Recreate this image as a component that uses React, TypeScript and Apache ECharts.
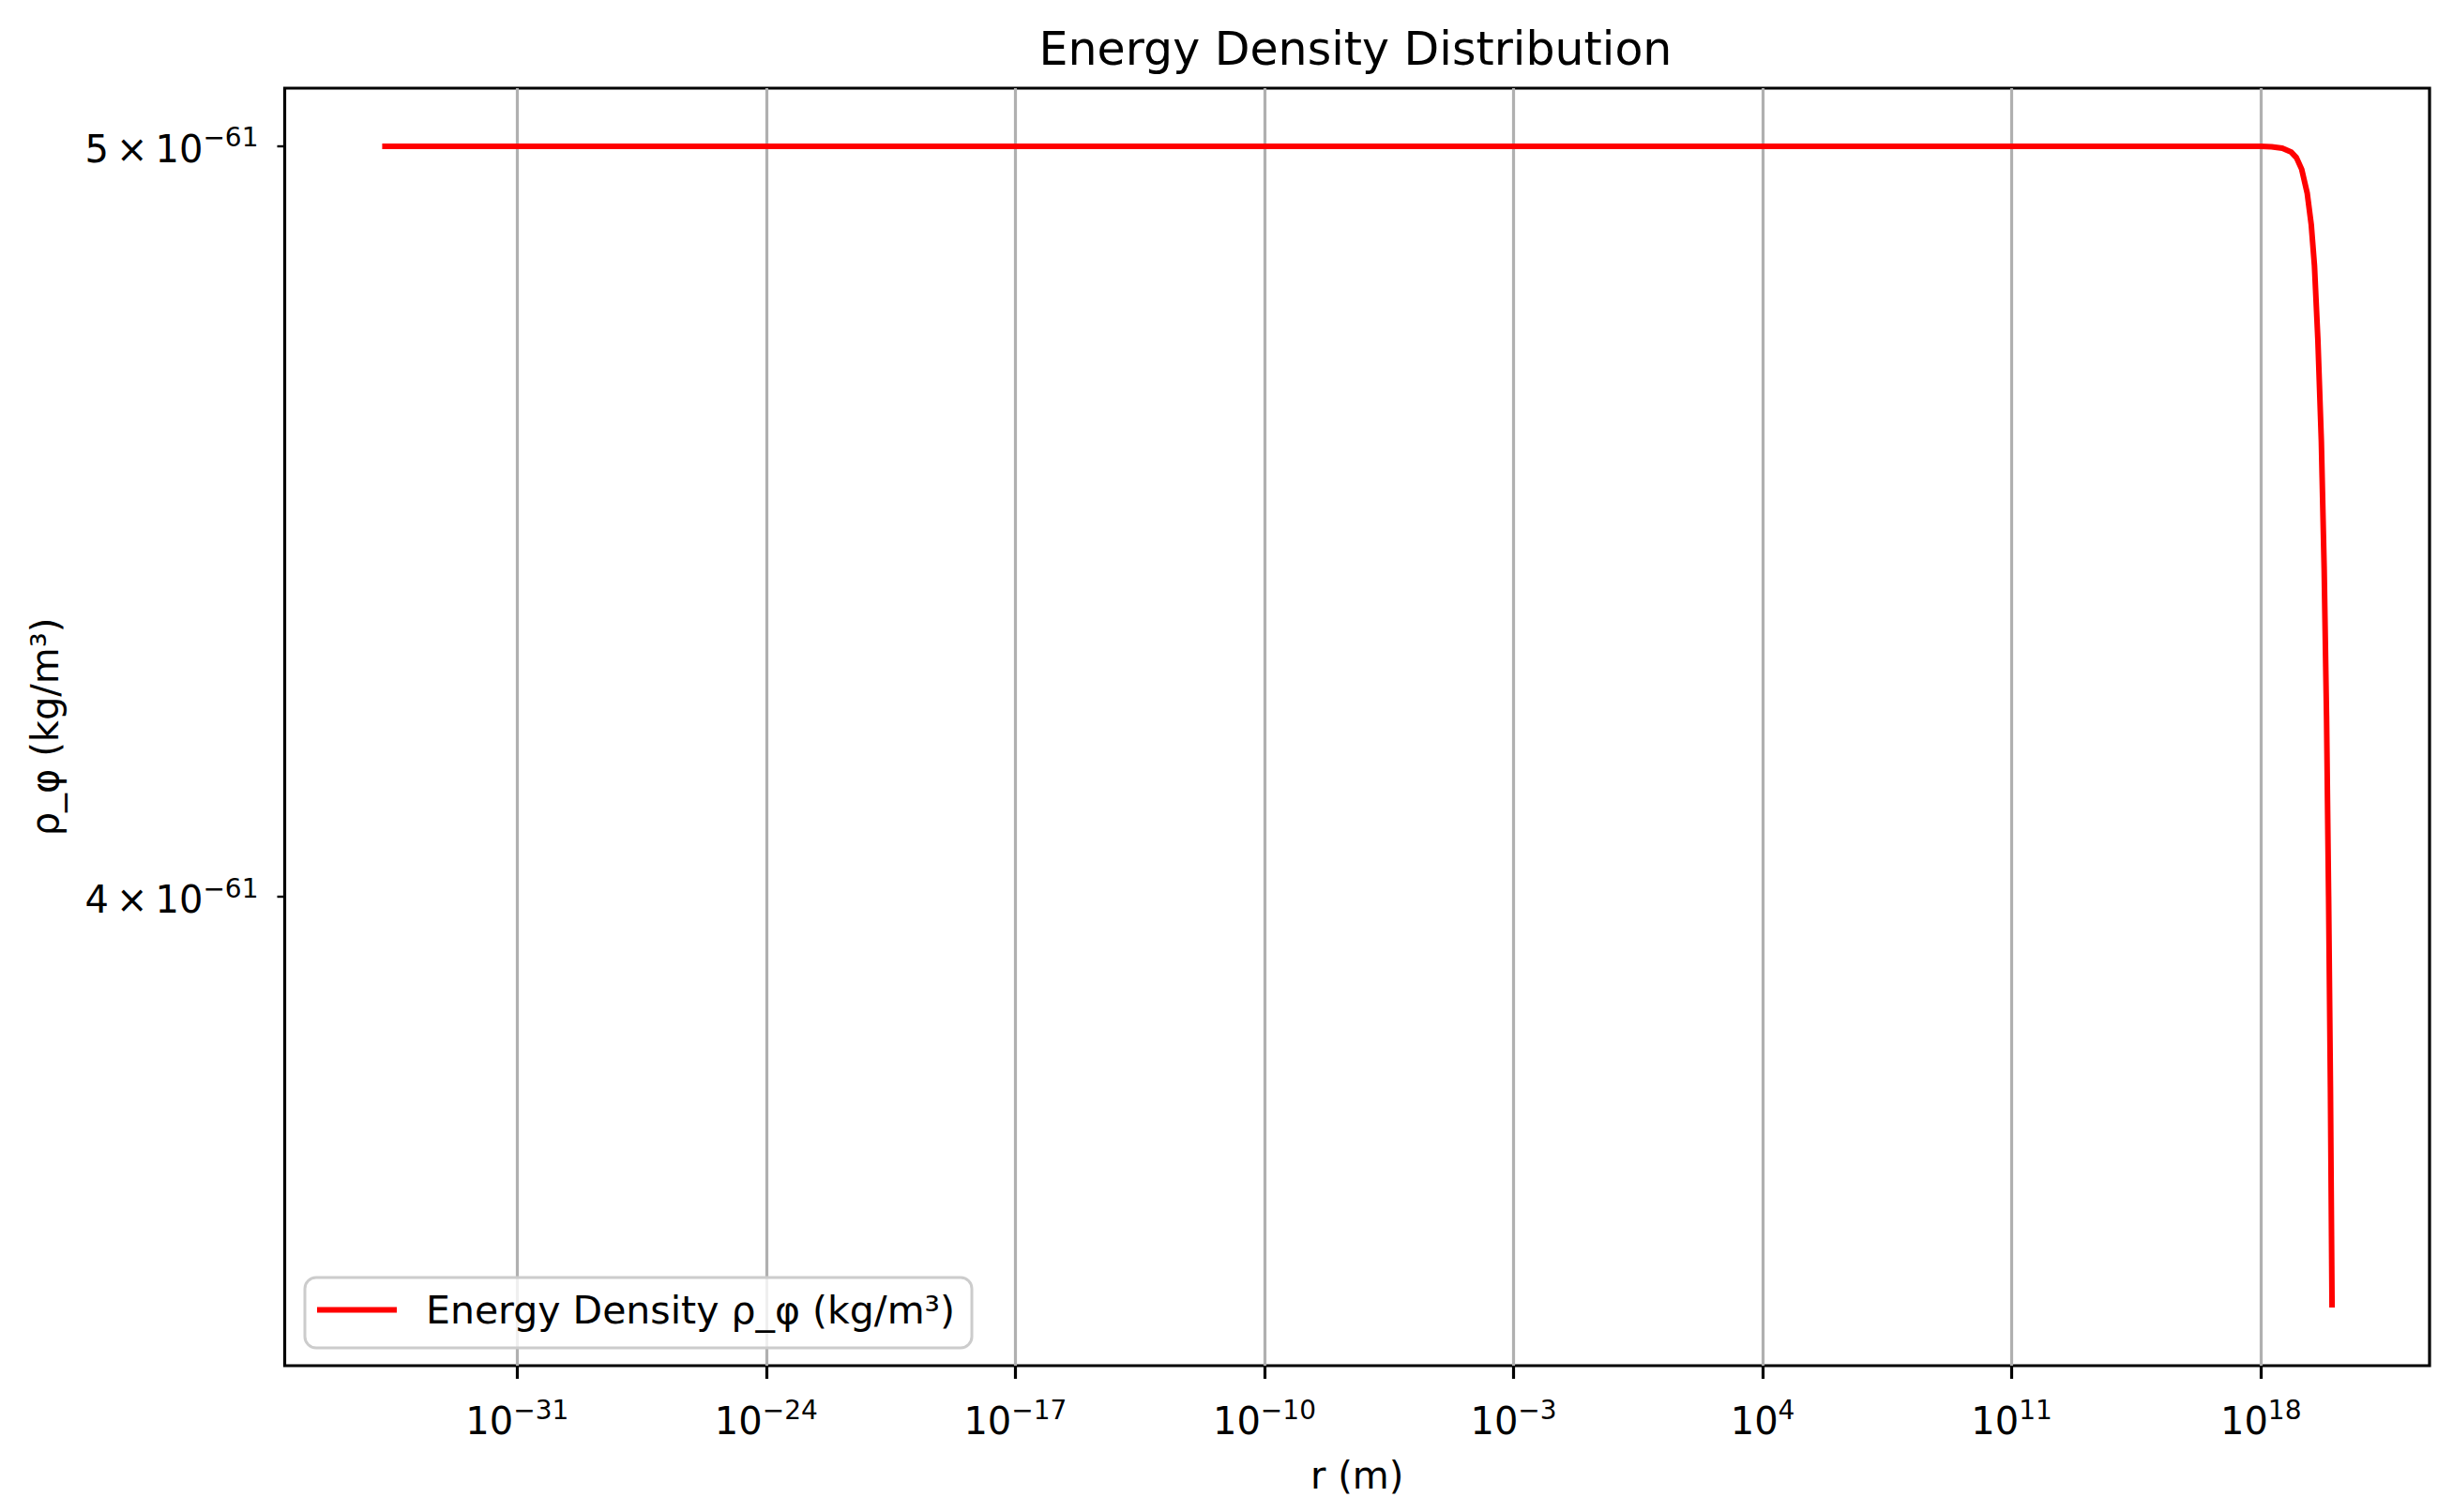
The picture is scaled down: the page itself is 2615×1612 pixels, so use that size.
import { useEffect, useRef } from "react";
import * as echarts from "echarts";

// ---- data ----
const radiusM = [
  1.616e-35, 1e-30, 1e-25, 1e-20, 1e-15, 1e-10, 1e-5, 1, 1e5, 1e10, 1e15, 1e17,
  1e18, 2e18, 4e18, 7e18, 1e19, 1.4e19, 2e19, 2.6e19, 3.2e19, 4e19, 5e19, 6e19,
  7e19, 8e19, 9e19, 1e20,
];
const densityKgM3 = [
  5e-61, 5e-61, 5e-61, 5e-61, 5e-61, 5e-61, 5e-61, 5e-61, 5e-61, 5e-61, 5e-61, 5e-61,
  4.9998e-61, 4.9993e-61, 4.9972e-61, 4.9916e-61, 4.983e-61, 4.966e-61, 4.931e-61,
  4.885e-61, 4.826e-61, 4.72e-61, 4.58e-61, 4.41e-61, 4.22e-61, 4.0e-61, 3.78e-61,
  3.54e-61,
];
const xTickExponents = [-31, -24, -17, -10, -3, 4, 11, 18];
const yTickValues = [4e-61, 5e-61];

const TITLE = "Energy Density Distribution";
const X_NAME = "r (m)";
const Y_NAME = "ρ_φ (kg/m³)";
const SERIES_NAME = "Energy Density ρ_φ (kg/m³)";

const FONT = "DejaVu Sans";
const MINUS = "\u2212";
const THIN = "\u2009";
const W = 2615;
const H = 1612;

function supNum(n: number): string {
  return n < 0 ? MINUS + Math.abs(n) : String(n);
}

const richSup = {
  b: { fontSize: 40, fontFamily: FONT, color: "#000", lineHeight: 46, verticalAlign: "bottom" },
  s: { fontSize: 28, fontFamily: FONT, color: "#000", lineHeight: 22, verticalAlign: "top" },
};

export default function App() {
  const ref = useRef<HTMLDivElement>(null);

  useEffect(() => {
    if (!ref.current) return;
    const chart = echarts.init(ref.current, undefined, { renderer: "svg", width: W, height: H });

    const logX = radiusM.map((v) => Math.log10(v));
    const logY = densityKgM3.map((v) => Math.log10(v));
    const xMinD = Math.min(...logX);
    const xMaxD = Math.max(...logX);
    const yMinD = Math.min(...logY);
    const yMaxD = Math.max(...logY);
    const xPad = 0.05 * (xMaxD - xMinD);
    const yPad = 0.05 * (yMaxD - yMinD);
    const data = logX.map((x, i) => [x, logY[i]]);
    const yTickLogs = yTickValues.map((v) => Math.log10(v));

    const option: any = {
      animation: false,
      backgroundColor: "#ffffff",
      title: {
        text: TITLE,
        left: 1440,
        top: 23,
        textAlign: "center",
        textStyle: { fontSize: 49, fontWeight: "normal", color: "#000", fontFamily: FONT, lineHeight: 49 },
      },
      grid: {
        left: 303.5,
        top: 94,
        right: W - 2590,
        bottom: H - 1456,
        show: true,
        borderColor: "#000",
        borderWidth: 3.2,
        backgroundColor: "transparent",
        containLabel: false,
        outerBoundsMode: "none",
      },
      legend: {
        data: [SERIES_NAME],
        left: 325,
        top: 1362,
        orient: "horizontal",
        icon: "rect",
        itemWidth: 85,
        itemHeight: 6,
        itemGap: 0,
        padding: [14, 18, 20, 13],
        backgroundColor: "rgba(255,255,255,0.8)",
        borderColor: "#cccccc",
        borderWidth: 3,
        borderRadius: 12,
        textStyle: {
          fontSize: 41,
          fontFamily: FONT,
          color: "#000",
          lineHeight: 40,
          padding: [0, 0, 0, 26],
        },
      },
      xAxis: {
        type: "value",
        min: xMinD - xPad,
        max: xMaxD + xPad,
        name: X_NAME,
        nameLocation: "middle",
        nameGap: 97,
        nameTextStyle: { fontSize: 40, fontFamily: FONT, color: "#000", lineHeight: 40 },
        axisLine: { show: false, onZero: false },
        axisTick: {
          show: true,
          customValues: xTickExponents,
          length: 14,
          lineStyle: { color: "#000", width: 3.2 },
        },
        axisLabel: {
          customValues: xTickExponents,
          margin: 33,
          formatter: (v: number) => `{b|10}{s|${supNum(Math.round(v))}}`,
          rich: richSup,
        },
        splitLine: { show: true, lineStyle: { color: "#b0b0b0", width: 3.2 } },
      },
      yAxis: {
        type: "value",
        min: yMinD - yPad,
        max: yMaxD + yPad,
        name: Y_NAME,
        nameLocation: "middle",
        nameRotate: 90,
        nameGap: 236,
        nameTextStyle: { fontSize: 40, fontFamily: FONT, color: "#000", lineHeight: 40 },
        axisLine: { show: false, onZero: false },
        axisTick: {
          show: true,
          customValues: yTickLogs,
          length: 8,
          lineStyle: { color: "#000", width: 2.4 },
        },
        axisLabel: {
          customValues: yTickLogs,
          margin: 28,
          formatter: (v: number) => {
            const e = Math.floor(v + 1e-9);
            const m = Math.round(Math.pow(10, v - e));
            return `{b|${m}${THIN}×${THIN}10}{s|${supNum(e)}}`;
          },
          rich: richSup,
        },
        splitLine: { show: false },
      },
      series: [
        {
          type: "line",
          name: SERIES_NAME,
          data,
          showSymbol: false,
          symbol: "none",
          smooth: false,
          clip: true,
          lineStyle: { color: "#ff0000", width: 6 },
          itemStyle: { color: "#ff0000" },
          z: 3,
        },
      ],
    };

    chart.setOption(option);
    return () => {
      chart.dispose();
    };
  }, []);

  return (
    <div
      ref={ref}
      style={{ position: "absolute", left: 0, top: 0, width: W, height: H, background: "#fff" }}
    />
  );
}
